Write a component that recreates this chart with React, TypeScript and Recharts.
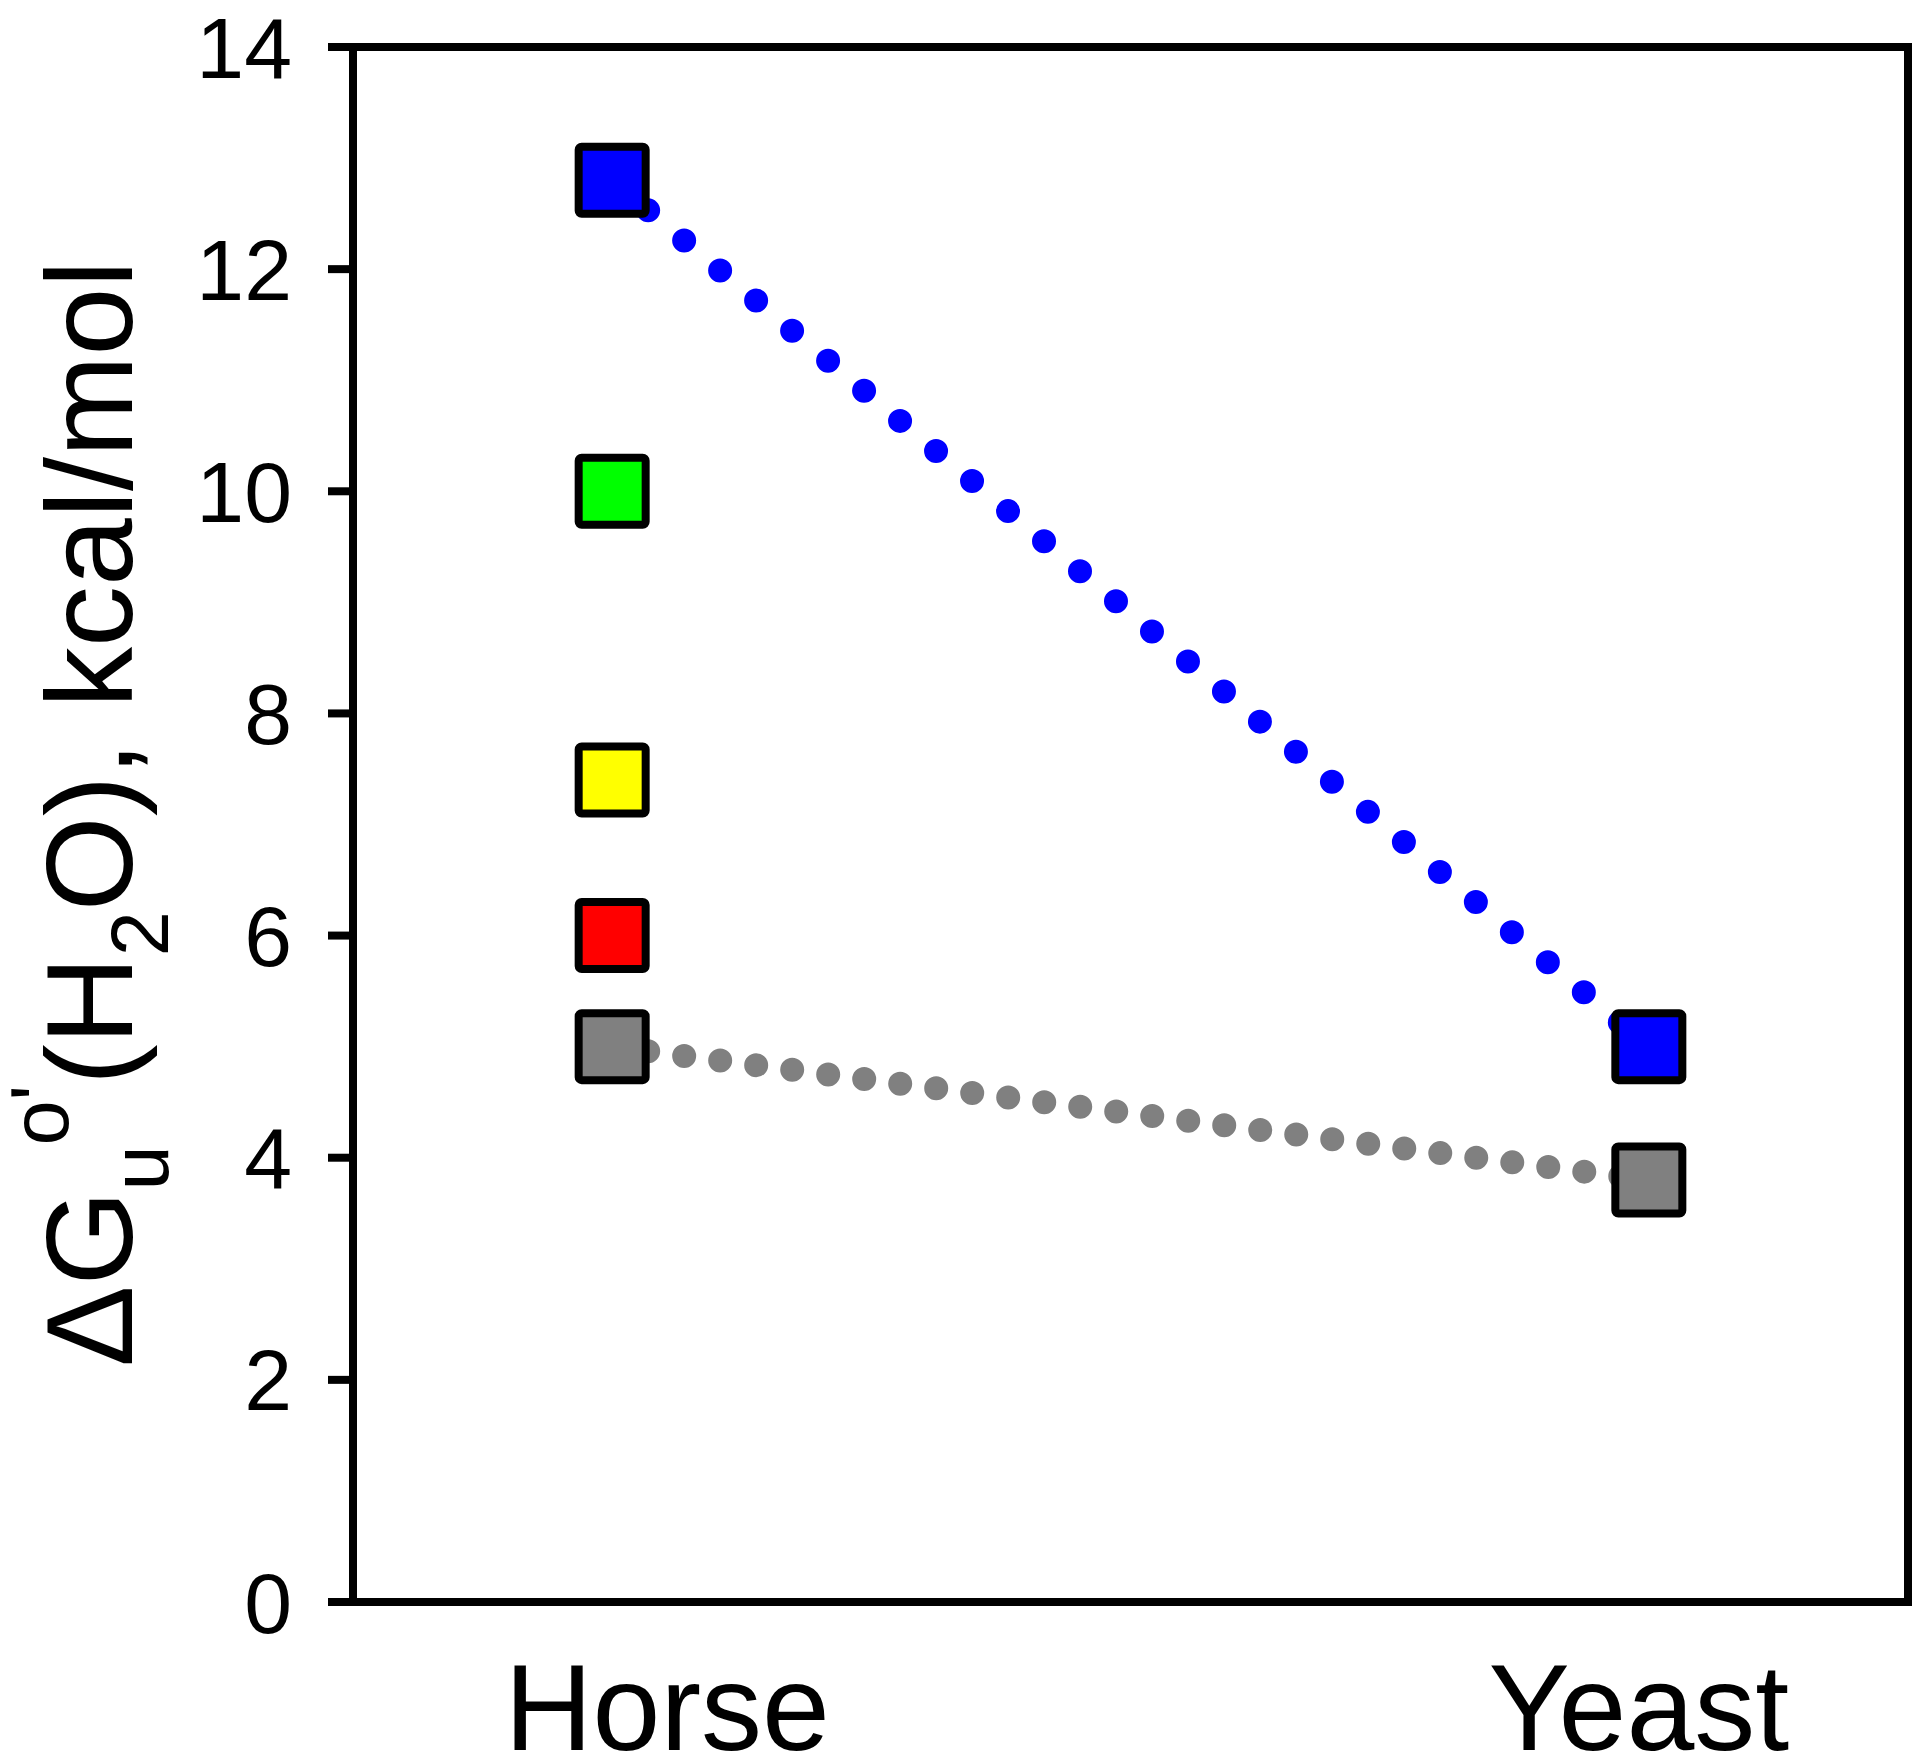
import React from "react";
import { ComposedChart, Line, XAxis, YAxis, ReferenceLine } from "recharts";

const categories = ["Horse", "Yeast"];
const xValues = [0.5, 2.5];
const blueValues = [12.8, 5.0];
const greenValues = [10.0, null];
const yellowValues = [7.4, null];
const redValues = [6.0, null];
const grayValues = [5.0, 3.8];
const yTicks = [0, 2, 4, 6, 8, 10, 12, 14];

const data = xValues.map((x, i) => ({
  x,
  name: categories[i],
  blue: blueValues[i],
  green: greenValues[i],
  yellow: yellowValues[i],
  red: redValues[i],
  gray: grayValues[i],
}));

const FONT = "'Liberation Sans', Arial, Helvetica, sans-serif";

const makeSquare = (fill: string) => (props: any) => {
  const { cx, cy, index } = props;
  if (cx == null || cy == null || props.value == null || (Array.isArray(props.value) && props.value[1] == null)) {
    return <g key={`e-${index}`} />;
  }
  const s = 67;
  return (
    <rect
      key={`sq-${fill}-${index}`}
      x={cx - s / 2}
      y={cy - s / 2}
      width={s}
      height={s}
      rx={3}
      ry={3}
      fill={fill}
      stroke="#000"
      strokeWidth={8}
    />
  );
};

const labelOffsets = [55, -10];

const XTick = (props: any) => {
  const { x, y, index } = props;
  return (
    <text
      x={x + labelOffsets[index]}
      y={y + 148}
      textAnchor="middle"
      fontFamily={FONT}
      fontSize={122}
      fill="#000"
    >
      {categories[index]}
    </text>
  );
};

const YLabel = () => (
  <text
    transform="rotate(-90)"
    x={-1359}
    y={124}
    fontFamily={FONT}
    fontSize={122}
    fill="#000"
    textAnchor="start"
  >
    <tspan>ΔG</tspan>
    <tspan fontSize={81} dy={36}>u</tspan>
    <tspan fontSize={81} dy={-100}>o'</tspan>
    <tspan dy={64}>(H</tspan>
    <tspan fontSize={81} dy={36}>2</tspan>
    <tspan dy={-36}>O), kcal/mol</tspan>
  </text>
);

export default function App() {
  return (
    <div style={{ width: 1904, height: 1770, background: "#fff" }}>
      <ComposedChart
        width={1904}
        height={1770}
        data={data}
        margin={{ top: 39, right: 4, bottom: 26, left: 0 }}
      >
        <XAxis
          dataKey="x"
          type="number"
          domain={[0, 3]}
          ticks={xValues}
          tick={<XTick />}
          tickLine={false}
          tickSize={0}
          tickMargin={0}
          axisLine={{ stroke: "#000", strokeWidth: 8 }}
          height={150}
          allowDataOverflow
        />
        <YAxis
          type="number"
          domain={[0, 14]}
          ticks={yTicks}
          width={345}
          tickSize={25}
          tickMargin={36}
          tickLine={{ stroke: "#000", strokeWidth: 8 }}
          axisLine={{ stroke: "#000", strokeWidth: 8 }}
          tick={{ fill: "#000", fontSize: 86, fontFamily: FONT }}
          interval={0}
          allowDataOverflow
          label={{ content: () => <YLabel /> }}
        />
        <ReferenceLine y={14} stroke="#000" strokeWidth={8} strokeLinecap="square" />
        <ReferenceLine x={3} stroke="#000" strokeWidth={8} strokeLinecap="square" />
        <Line
          dataKey="gray"
          stroke="#808080"
          strokeWidth={24}
          strokeDasharray="0 36.3"
          strokeLinecap="round"
          dot={makeSquare("#808080")}
          activeDot={false}
          isAnimationActive={false}
        />
        <Line
          dataKey="red"
          stroke="none"
          dot={makeSquare("#FF0000")}
          activeDot={false}
          isAnimationActive={false}
        />
        <Line
          dataKey="yellow"
          stroke="none"
          dot={makeSquare("#FFFF00")}
          activeDot={false}
          isAnimationActive={false}
        />
        <Line
          dataKey="green"
          stroke="none"
          dot={makeSquare("#00FF00")}
          activeDot={false}
          isAnimationActive={false}
        />
        <Line
          dataKey="blue"
          stroke="#0000FF"
          strokeWidth={24}
          strokeDasharray="0 46.9"
          strokeLinecap="round"
          dot={makeSquare("#0000FF")}
          activeDot={false}
          isAnimationActive={false}
        />
      </ComposedChart>
    </div>
  );
}
